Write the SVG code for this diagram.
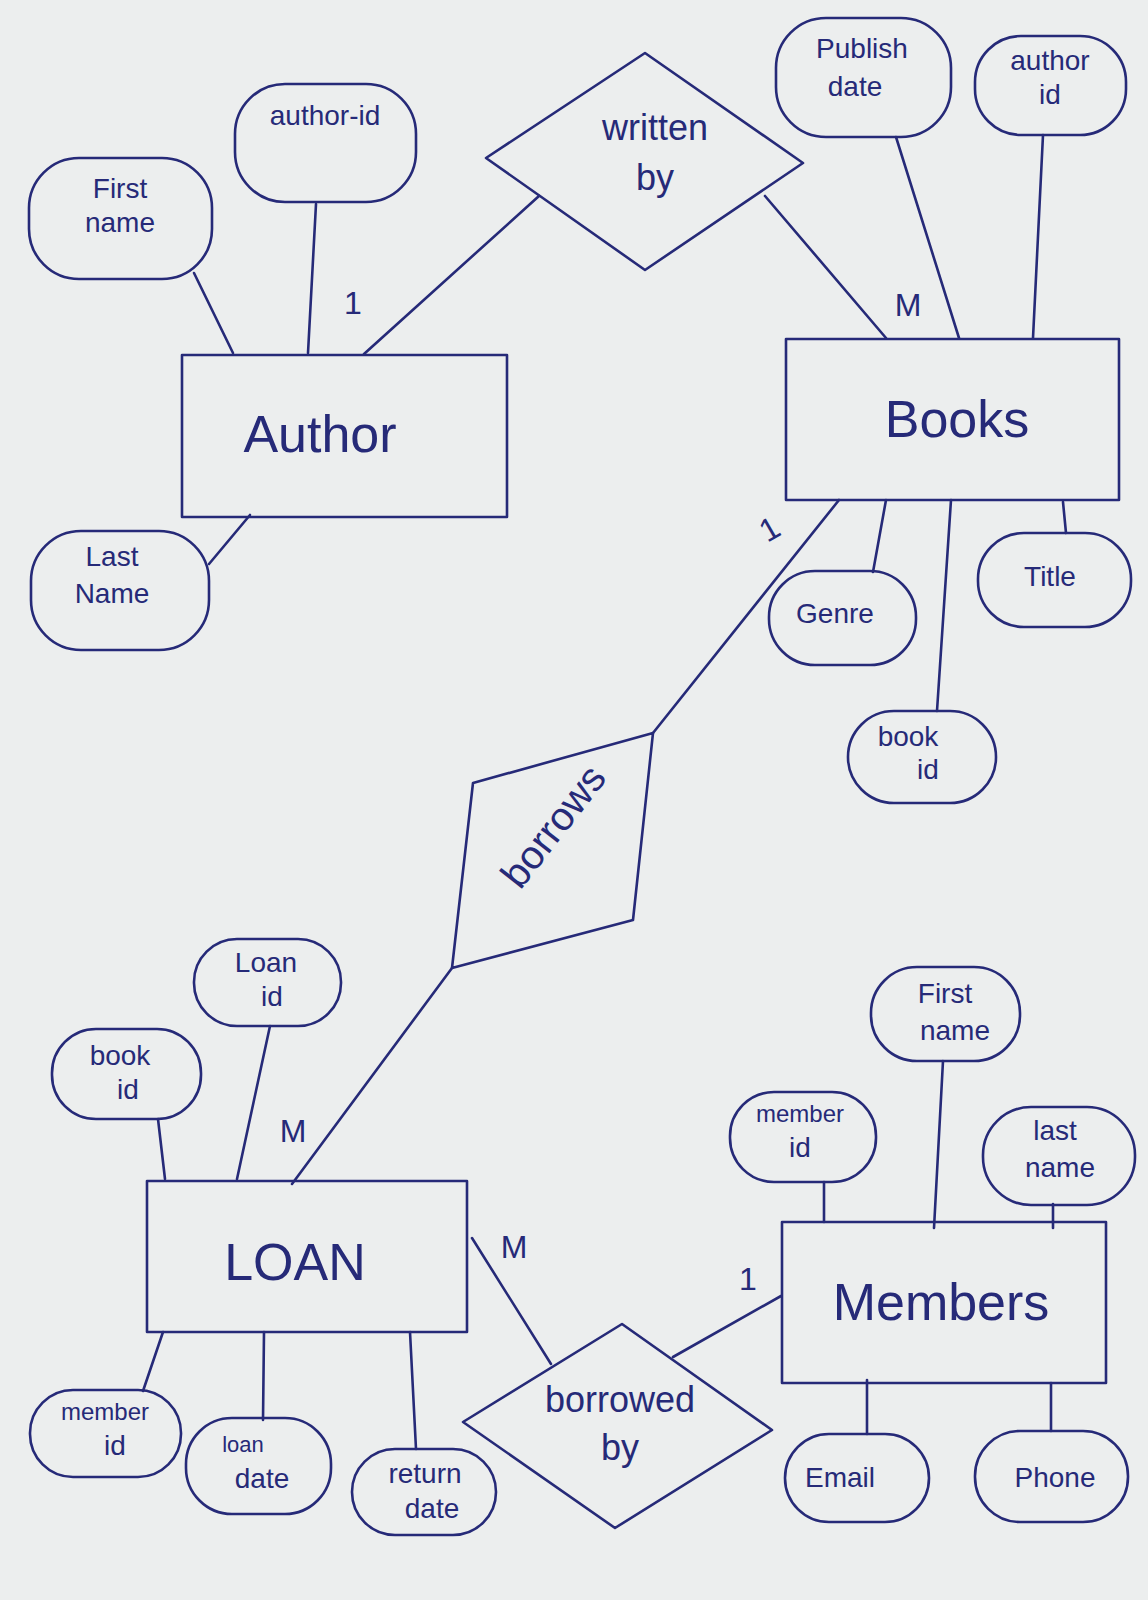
<svg xmlns="http://www.w3.org/2000/svg" width="1148" height="1600" viewBox="0 0 1148 1600">
<style>
.bg{fill:#eceeee}
.s{fill:none;stroke:#262a78;stroke-width:2.6;stroke-linejoin:round;stroke-linecap:round}
.t{font-family:"Liberation Sans",Arial,sans-serif;fill:#262a78;text-anchor:middle}
.a{font-size:28px}
.e{font-size:52px}
.r{font-size:36px}
.c{font-size:32px}
</style>
<rect class="bg" x="0" y="0" width="1148" height="1600"/>
<g id="connectors">
<line class="s" x1="194" y1="273" x2="233" y2="353"/>
<line class="s" x1="316" y1="204" x2="308" y2="353"/>
<line class="s" x1="209" y1="564" x2="250" y2="515"/>
<line class="s" x1="364" y1="354" x2="539" y2="196"/>
<line class="s" x1="765" y1="196" x2="886" y2="338"/>
<line class="s" x1="896" y1="137" x2="959" y2="338"/>
<line class="s" x1="1043" y1="135" x2="1033" y2="338"/>
<line class="s" x1="886" y1="500" x2="873" y2="572"/>
<line class="s" x1="951" y1="500" x2="937" y2="711"/>
<line class="s" x1="1063" y1="502" x2="1066" y2="533"/>
<line class="s" x1="839" y1="500" x2="653" y2="733"/>
<line class="s" x1="452" y1="968" x2="292" y2="1184"/>
<line class="s" x1="270" y1="1026" x2="237" y2="1179"/>
<line class="s" x1="158" y1="1119" x2="165" y2="1179"/>
<line class="s" x1="163" y1="1332" x2="143" y2="1391"/>
<line class="s" x1="264" y1="1332" x2="263" y2="1420"/>
<line class="s" x1="410" y1="1332" x2="416" y2="1449"/>
<line class="s" x1="472" y1="1238" x2="551" y2="1364"/>
<line class="s" x1="673" y1="1357" x2="781" y2="1296"/>
<line class="s" x1="824" y1="1182" x2="824" y2="1222"/>
<line class="s" x1="943" y1="1061" x2="934" y2="1228"/>
<line class="s" x1="1053" y1="1204" x2="1053" y2="1228"/>
<line class="s" x1="867" y1="1380" x2="867" y2="1434"/>
<line class="s" x1="1051" y1="1383" x2="1051" y2="1431"/>
<text class="t c" x="353" y="314">1</text>
<text class="t c" x="908" y="316">M</text>
<text class="t c" x="770" y="540" transform="rotate(-30 770 530)">1</text>
<text class="t c" x="293" y="1142">M</text>
<text class="t c" x="514" y="1258">M</text>
<text class="t c" x="748" y="1290">1</text>
</g>
<g id="author"><rect class="s" x="182" y="355" width="325" height="162"/><text class="t e" x="320" y="452">Author</text></g>
<g id="books"><rect class="s" x="786" y="339" width="333" height="161"/><text class="t e" x="957" y="437">Books</text></g>
<g id="loan"><rect class="s" x="147" y="1181" width="320" height="151"/><text class="t e" x="295" y="1280">LOAN</text></g>
<g id="members"><rect class="s" x="782" y="1222" width="324" height="161"/><text class="t e" x="941" y="1320">Members</text></g>
<g id="written-by"><polygon class="s" points="645,53 803,163 645,270 486,158"/><text class="t r" x="655" y="140">written</text><text class="t r" x="655" y="190">by</text></g>
<g id="borrows"><polygon class="s" points="653,733 473,783 452,968 633,920"/><text class="t r" x="553" y="826" style="font-size:40px" transform="rotate(-52 553 826)"><tspan dy="14">borrows</tspan></text></g>
<g id="borrowed-by"><polygon class="s" points="622,1324 772,1430 615,1528 463,1422"/><text class="t r" x="620" y="1412">borrowed</text><text class="t r" x="620" y="1460">by</text></g>
<g id="author-first-name"><rect class="s" x="29" y="158" width="183" height="121" rx="50"/><text class="t a" x="120" y="198">First</text><text class="t a" x="120" y="232">name</text></g>
<g id="author-id"><rect class="s" x="235" y="84" width="181" height="118" rx="50"/><text class="t a" x="325" y="125">author-id</text></g>
<g id="author-last-name"><rect class="s" x="31" y="531" width="178" height="119" rx="50"/><text class="t a" x="112" y="566">Last</text><text class="t a" x="112" y="603">Name</text></g>
<g id="publish-date"><rect class="s" x="776" y="18" width="175" height="119" rx="50"/><text class="t a" x="862" y="58">Publish</text><text class="t a" x="855" y="96">date</text></g>
<g id="books-author-id"><rect class="s" x="975" y="36" width="151" height="99" rx="46"/><text class="t a" x="1050" y="70">author</text><text class="t a" x="1050" y="104">id</text></g>
<g id="genre"><rect class="s" x="769" y="571" width="147" height="94" rx="46"/><text class="t a" x="835" y="623">Genre</text></g>
<g id="title"><rect class="s" x="978" y="533" width="153" height="94" rx="46"/><text class="t a" x="1050" y="586">Title</text></g>
<g id="books-book-id"><rect class="s" x="848" y="711" width="148" height="92" rx="46"/><text class="t a" x="908" y="746">book</text><text class="t a" x="928" y="779">id</text></g>
<g id="loan-id"><rect class="s" x="194" y="939" width="147" height="87" rx="43"/><text class="t a" x="266" y="972">Loan</text><text class="t a" x="272" y="1006">id</text></g>
<g id="loan-book-id"><rect class="s" x="52" y="1029" width="149" height="90" rx="44"/><text class="t a" x="120" y="1065">book</text><text class="t a" x="128" y="1099">id</text></g>
<g id="loan-member-id"><rect class="s" x="30" y="1390" width="151" height="87" rx="43"/><text class="t a" x="105" y="1420" style="font-size:24px">member</text><text class="t a" x="115" y="1455">id</text></g>
<g id="loan-date"><rect class="s" x="186" y="1418" width="145" height="96" rx="46"/><text class="t a" x="243" y="1452" style="font-size:22px">loan</text><text class="t a" x="262" y="1488">date</text></g>
<g id="return-date"><rect class="s" x="352" y="1449" width="144" height="86" rx="43"/><text class="t a" x="425" y="1483">return</text><text class="t a" x="432" y="1518">date</text></g>
<g id="members-first-name"><rect class="s" x="871" y="967" width="149" height="94" rx="46"/><text class="t a" x="945" y="1003">First</text><text class="t a" x="955" y="1040">name</text></g>
<g id="members-member-id"><rect class="s" x="730" y="1092" width="146" height="90" rx="44"/><text class="t a" x="800" y="1122" style="font-size:24px">member</text><text class="t a" x="800" y="1157">id</text></g>
<g id="last-name"><rect class="s" x="983" y="1107" width="152" height="98" rx="48"/><text class="t a" x="1055" y="1140">last</text><text class="t a" x="1060" y="1177">name</text></g>
<g id="email"><rect class="s" x="785" y="1434" width="144" height="88" rx="44"/><text class="t a" x="840" y="1487">Email</text></g>
<g id="phone"><rect class="s" x="975" y="1431" width="153" height="91" rx="45"/><text class="t a" x="1055" y="1487">Phone</text></g>
</svg>
